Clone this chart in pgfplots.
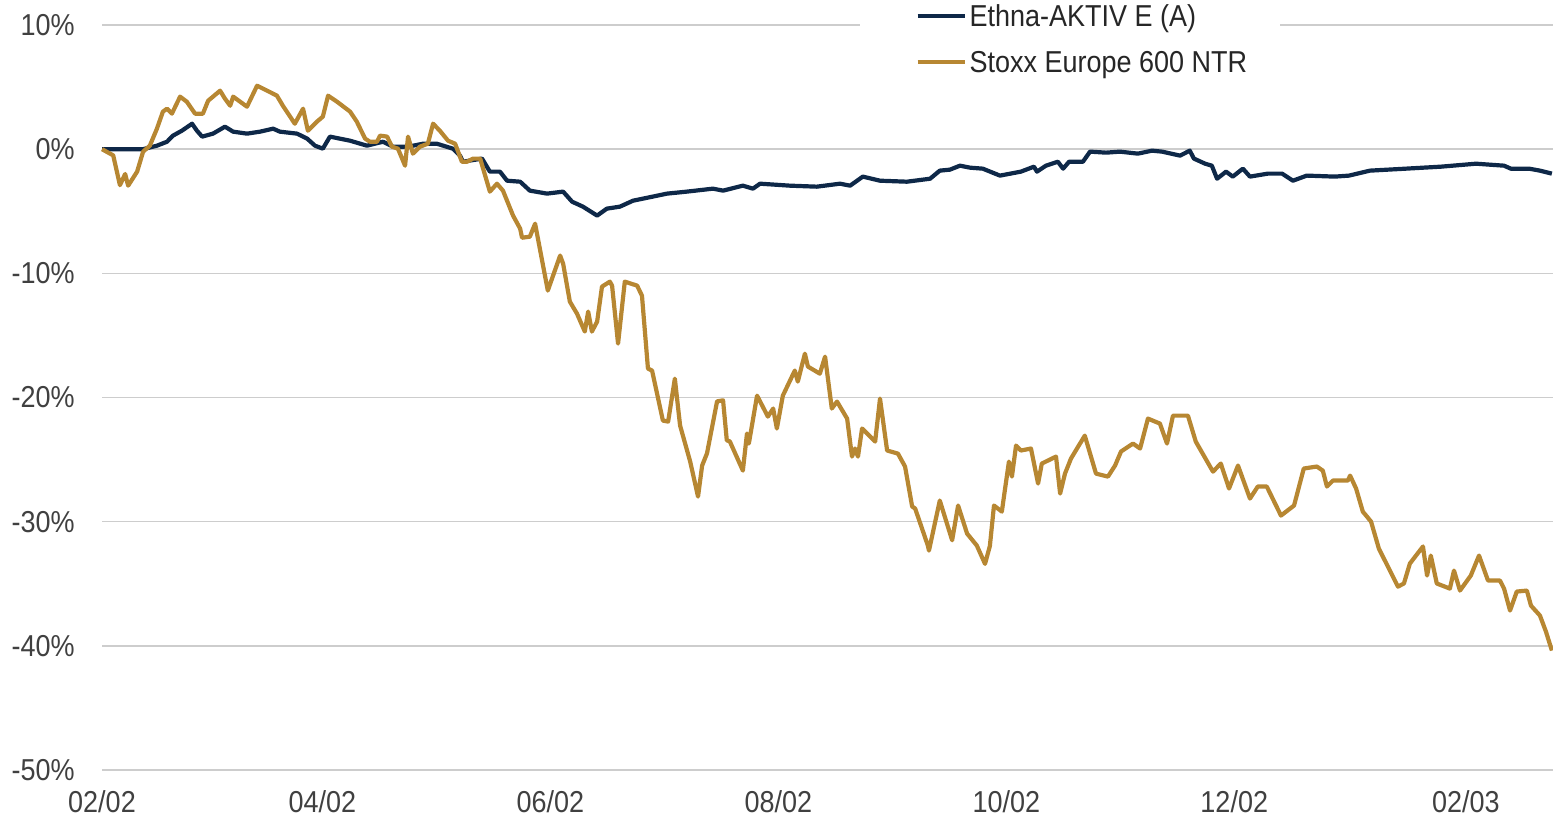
\documentclass[border=0pt]{standalone}
\usepackage{pgfplots}
\pgfplotsset{compat=1.18}
\usepackage{fontspec}
\setmainfont{Liberation Sans}
\definecolor{navy}{RGB}{14,40,72}
\definecolor{gold}{RGB}{183,135,50}
\definecolor{gridgray}{RGB}{205,205,205}
\definecolor{ticktext}{RGB}{64,64,64}
\definecolor{legtext}{RGB}{38,38,38}
\newcommand{\lbl}[1]{\scalebox{1}[1.12]{#1}}
\begin{document}
\begin{tikzpicture}
\begin{axis}[
  at={(0,0)}, anchor=south west,
  scale only axis,
  width=725.5bp, height=372.5bp,
  xmin=0, xmax=388.3, ymin=-50, ymax=10,
  axis line style={draw=none},
  major tick length=0pt,
  ymajorgrids,
  grid style={gridgray, line width=0.8bp},
  xtick={0,59,120,181,242,303,365},
  xticklabels={\lbl{02/02},\lbl{04/02},\lbl{06/02},\lbl{08/02},\lbl{10/02},\lbl{12/02},\lbl{02/03}},
  ytick={-50,-40,-30,-20,-10,0,10},
  yticklabels={\lbl{-50\%},\lbl{-40\%},\lbl{-30\%},\lbl{-20\%},\lbl{-10\%},\lbl{0\%},\lbl{10\%}},
  xticklabel style={font=\fontsize{13.5bp}{16bp}\selectfont, text=ticktext, inner sep=0pt, anchor=north, yshift=-10bp},
  yticklabel style={font=\fontsize{13.5bp}{16bp}\selectfont, text=ticktext, inner sep=0pt, anchor=east, xshift=-13.5bp},
  clip=false,
  legend cell align=left,
  legend image code/.code={\path (0bp,0bp); \draw[#1, line width=2.1bp] (11bp,0bp) -- (34.5bp,0bp);},
  legend style={at={(0.5224,1.0403)}, anchor=north west, draw=none, fill=white,
    inner xsep=16.5bp, inner ysep=5bp, row sep=12.5bp,
    font=\fontsize{13.5bp}{16bp}\selectfont, text=legtext,
    nodes={inner sep=0pt, text height=10.5bp, text depth=0bp},
    /tikz/every odd column/.append style={column sep=1.5bp}},
]
\addplot[navy, line width=2.1bp, line join=round] coordinates {
(0,0) (11.0,0) (14.7,0.28) (17.4,0.6) (19.0,1.09) (21.4,1.49) (24.1,2.05) (25.4,1.49)
(26.8,1.01) (29.7,1.25) (32.9,1.81) (35.1,1.41) (38.8,1.25) (42.3,1.41) (45.8,1.65)
(47.6,1.41) (52.2,1.25) (54.9,0.85) (57.0,0.28) (59.1,0.04) (61.0,1.01) (66.4,0.68)
(70.9,0.28) (75.2,0.6) (77.9,0.2) (81.9,0.2) (85.9,0.44) (89.6,0.44) (93.9,0.04)
(95.8,-0.52) (96.6,-1.01) (101.7,-0.76) (103.8,-1.81) (106.5,-1.81) (108.4,-2.54)
(111.9,-2.62) (114.5,-3.34) (119.1,-3.58) (123.4,-3.42) (125.8,-4.23) (128.7,-4.63)
(132.5,-5.35) (135.1,-4.79) (138.6,-4.63) (142.1,-4.15) (147.4,-3.82) (151.2,-3.58)
(156.5,-3.42) (163.5,-3.18) (166.2,-3.34) (171.5,-2.94) (174.2,-3.18) (176.1,-2.78)
(184.1,-2.94) (191.3,-3.02) (197.5,-2.78) (200.2,-2.94) (203.6,-2.21) (208.2,-2.54)
(215.4,-2.62) (221.6,-2.38) (224.2,-1.73) (226.9,-1.65) (229.6,-1.33) (232.3,-1.49)
(235.7,-1.57) (240.3,-2.13) (245.9,-1.81) (249.4,-1.41) (250.2,-1.81) (252.6,-1.33)
(255.8,-1.01) (257.2,-1.57) (258.8,-1.01) (262.5,-1.01) (264.4,-0.2) (268.7,-0.28)
(272.4,-0.2) (277.2,-0.36) (281.0,-0.12) (283.7,-0.2) (288.5,-0.52) (291.1,-0.12)
(292.2,-0.76) (295.2,-1.17) (297.0,-1.33) (298.4,-2.38) (300.8,-1.81) (302.6,-2.21)
(305.3,-1.57) (307.2,-2.21) (312.0,-1.97) (315.8,-1.97) (318.7,-2.54) (322.4,-2.13)
(329.9,-2.21) (333.7,-2.13) (339.3,-1.73) (348.9,-1.57) (358.3,-1.41) (367.7,-1.17)
(375.2,-1.33) (377.0,-1.57) (381.9,-1.57) (384.8,-1.73) (388.0,-1.97)
};
\addlegendentry{\lbl{Ethna-AKTIV E (A)}}
\addplot[gold, line width=2.1bp, line join=round] coordinates {
(0,0) (3,-0.5) (4.8,-2.9) (6.2,-2.0) (7.0,-2.94) (9.4,-1.81) (11.0,-0.2) (12.8,0.28)
(14.7,1.65) (16.3,3.02) (17.4,3.26) (18.7,2.86) (20.9,4.23) (22.7,3.82) (24.9,2.86)
(27.0,2.86) (28.4,3.9) (31.6,4.71) (32.9,4.07) (34.3,3.5) (35.1,4.23) (38.8,3.42)
(41.5,5.11) (44.2,4.71) (46.8,4.31) (48.4,3.5) (51.6,2.05) (53.8,3.26) (55.1,1.49)
(57.5,2.21) (59.1,2.62) (60.5,4.31) (62.9,3.82) (66.4,3.02) (68.2,2.21) (70.4,0.85)
(71.7,0.6) (73.6,0.6) (74.4,1.09) (76.3,1.01) (77.6,0.2) (79.2,0.04) (81.1,-1.33)
(81.9,1.01) (83.2,-0.36) (85.1,0.2) (87.2,0.44) (88.6,2.05) (90.4,1.49) (92.6,0.68)
(94.5,0.44) (96.3,-1.01) (97.7,-1.01) (99.3,-0.76) (101.2,-0.76) (103.8,-3.42)
(105.7,-2.78) (107.3,-3.34) (110.0,-5.35) (111.9,-6.4) (112.4,-7.13) (114.5,-7.05)
(115.9,-6.0) (119.3,-11.39) (122.6,-8.57) (123.4,-9.22) (125.2,-12.28) (127.1,-13.24)
(129.2,-14.69) (130.1,-13.08) (131.1,-14.69) (132.5,-13.89) (133.8,-11.07)
(135.9,-10.67) (136.5,-10.99) (138.1,-15.66) (139.9,-10.67) (143.2,-10.99)
(144.5,-11.8) (146.1,-17.67) (147.2,-17.83) (150.1,-21.86) (151.5,-21.94)
(153.3,-18.48) (154.7,-22.26) (157.4,-25.16) (159.5,-27.98) (160.6,-25.48)
(161.9,-24.5) (164.6,-20.31) (166.2,-20.23) (167.2,-23.45) (168.0,-23.53)
(171.5,-25.89) (172.6,-22.9) (173.1,-23.71) (175.3,-19.85) (178.2,-21.54)
(179.6,-20.89) (180.6,-22.5) (182.2,-19.85) (185.4,-17.83) (186.2,-18.72)
(188.1,-16.47) (188.9,-17.51) (192.1,-18.08) (193.5,-16.71) (195.3,-20.89)
(196.7,-20.33) (199.4,-21.7) (200.7,-24.76) (201.5,-24.11) (202.3,-24.76)
(203.4,-22.5) (206.9,-23.55) (208.2,-20.09) (210.1,-24.27) (213.0,-24.52)
(214.9,-25.56) (216.8,-28.78) (217.6,-28.94) (221.0,-31.92) (221.3,-32.33)
(224.2,-28.3) (227.5,-31.5) (229.1,-28.7) (231.5,-30.96) (234.1,-31.92)
(236.3,-33.4) (237.6,-31.96) (238.7,-28.7) (240.8,-29.19) (242.7,-25.16)
(243.5,-26.37) (244.6,-23.87) (245.9,-24.27) (248.6,-24.11) (250.5,-26.93)
(251.5,-25.32) (255.3,-24.76) (256.4,-27.74) (257.7,-26.13) (259.3,-24.92)
(263.0,-23.07) (266.0,-26.13) (269.2,-26.37) (271.1,-25.48) (272.7,-24.35)
(275.9,-23.71) (277.8,-24.11) (279.9,-21.7) (283.1,-22.1) (285.0,-23.71)
(286.6,-21.46) (290.6,-21.46) (292.7,-23.55) (297.3,-25.97) (299.4,-25.32)
(301.6,-27.33) (304.0,-25.48) (307.2,-28.14) (309.3,-27.17) (311.7,-27.17)
(315.5,-29.51) (319.0,-28.7) (321.6,-25.72) (325.1,-25.56) (326.7,-25.89)
(327.8,-27.17) (329.4,-26.69) (333.4,-26.69) (334.0,-26.29) (335.6,-27.33)
(337.4,-29.19) (339.6,-29.99) (341.7,-32.17) (346.8,-35.23) (348.4,-34.98)
(350.0,-33.37) (353.5,-32.0) (354.6,-34.34) (355.6,-32.73) (357.2,-34.98)
(360.7,-35.39) (361.8,-33.94) (363.4,-35.55) (366.3,-34.34) (368.5,-32.73)
(370.9,-34.74) (374.1,-34.74) (375.2,-35.39) (376.8,-37.16) (378.6,-35.63)
(381.3,-35.55) (382.4,-36.76) (384.8,-37.56) (386.4,-38.85) (388.0,-40.38)
};
\addlegendentry{\lbl{Stoxx Europe 600 NTR}}
\end{axis}
\pgfresetboundingbox
\path[use as bounding box] (-51bp,-23.5bp) rectangle (725.5bp,385bp);
\end{tikzpicture}
\end{document}
